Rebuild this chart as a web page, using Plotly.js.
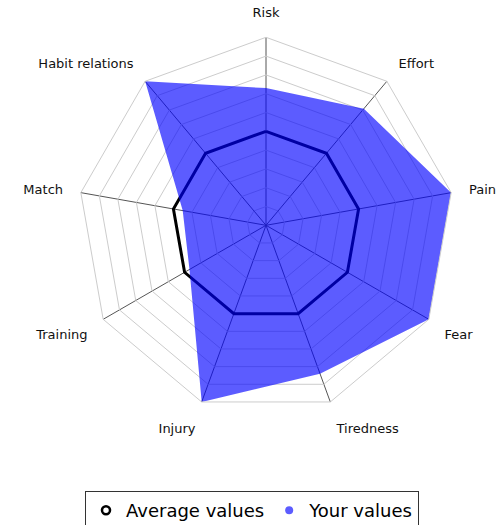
<!DOCTYPE html>
<html>
<head>
<meta charset="utf-8">
<script src="https://cdn.plot.ly/plotly-3.0.1.min.js"></script>
<style>html,body{margin:0;padding:0;background:#fff;}#chart{width:504px;height:525px;}</style>
</head>
<body>
<div id="chart"></div>
<script>
const categories = ["Risk", "Effort", "Pain", "Fear", "Tiredness", "Injury", "Training", "Match", "Habit relations"];
const averageValues = [5, 5, 5, 5, 5, 5, 5, 5, 5];
const yourValues = [7.3, 8.1, 10, 10, 8.4, 10, 4.7, 4.5, 10];
const seriesNames = ["Average values", "Your values"];

const closeLoop = a => a.concat([a[0]]);

const data = [
  {
    type: "scatterpolar",
    r: closeLoop(averageValues),
    theta: closeLoop(categories),
    mode: "lines",
    line: {color: "#000000", width: 3},
    name: seriesNames[0],
    showlegend: false,
    hoverinfo: "skip"
  },
  {
    type: "scatterpolar",
    r: closeLoop(yourValues),
    theta: closeLoop(categories),
    mode: "none",
    fill: "toself",
    fillcolor: "rgba(0,0,255,0.64)",
    name: seriesNames[1],
    showlegend: false,
    hoverinfo: "skip"
  },
  {
    type: "scatterpolar",
    r: [null], theta: [null],
    mode: "markers",
    marker: {symbol: "circle-open", color: "#000000", size: 8, line: {width: 2.5, color: "#000000"}},
    name: seriesNames[0]
  },
  {
    type: "scatterpolar",
    r: [null], theta: [null],
    mode: "markers",
    marker: {symbol: "circle", color: "rgb(92,92,255)", size: 8},
    name: seriesNames[1]
  }
];

const W = 504, H = 525;
const MB = 45;
const PH = H - MB;
const cx = 266, cy = 225.3, R = 188;

const layout = {
  width: W, height: H,
  margin: {l: 0, r: 0, t: 0, b: MB, autoexpand: false},
  paper_bgcolor: "#ffffff",
  font: {family: "DejaVu Sans, sans-serif", size: 13, color: "#111"},
  showlegend: true,
  legend: {
    orientation: "h",
    x: 0.5, xanchor: "center",
    y: 1 - 491 / PH, yanchor: "top",
    bordercolor: "#333", borderwidth: 1,
    font: {family: "DejaVu Sans, sans-serif", size: 18, color: "#000"},
    itemwidth: 30,
    tracegroupgap: 0
  },
  polar: {
    domain: {
      x: [(cx - R) / W, (cx + R) / W],
      y: [1 - (cy + R) / PH, 1 - (cy - R) / PH]
    },
    bgcolor: "#ffffff",
    gridshape: "linear",
    radialaxis: {
      range: [0, 10],
      dtick: 1,
      showticklabels: false,
      ticks: "",
      showline: false,
      gridcolor: "#cccccc",
      gridwidth: 1
    },
    angularaxis: {
      direction: "clockwise",
      rotation: 90,
      categoryorder: "array",
      categoryarray: categories,
      gridcolor: "#555555",
      gridwidth: 1,
      linecolor: "#cccccc",
      linewidth: 1,
      ticks: "outside",
      ticklen: 15,
      tickcolor: "rgba(0,0,0,0)",
      tickfont: {family: "DejaVu Sans, sans-serif", size: 13, color: "#111"}
    }
  }
};

Plotly.newPlot("chart", data, layout, {displayModeBar: false, staticPlot: true});
</script>
</body>
</html>
